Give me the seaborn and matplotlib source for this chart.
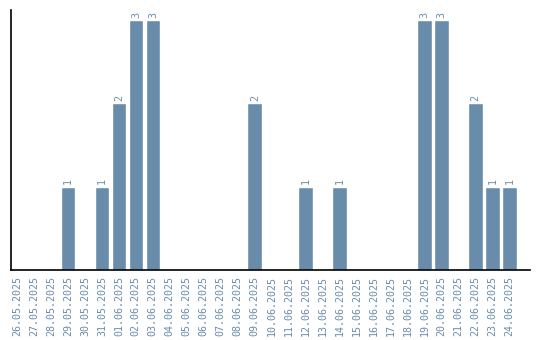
import matplotlib
matplotlib.use("Agg")
import matplotlib.pyplot as plt
import seaborn as sns
import pandas as pd

dates = ["26.05.2025","27.05.2025","28.05.2025","29.05.2025","30.05.2025","31.05.2025",
         "01.06.2025","02.06.2025","03.06.2025","04.06.2025","05.06.2025","06.06.2025",
         "07.06.2025","08.06.2025","09.06.2025","10.06.2025","11.06.2025","12.06.2025",
         "13.06.2025","14.06.2025","15.06.2025","16.06.2025","17.06.2025","18.06.2025",
         "19.06.2025","20.06.2025","21.06.2025","22.06.2025","23.06.2025","24.06.2025"]
counts = [0,0,0,1,0,1,2,3,3,0,0,0,0,0,2,0,0,1,0,1,0,0,0,0,3,3,0,2,1,1]

df = pd.DataFrame({"date": dates, "count": counts})
sns.set_style("white")
color = "#6a8cab"

fig = plt.figure(figsize=(5.4, 3.4), dpi=100)
ax = fig.add_axes([11/540, 1-270/340, (530-11)/540, (270-10)/340])
sns.barplot(data=df, x="date", y="count", color=color, saturation=1, width=0.86, ax=ax)
for p, v in zip(ax.patches, counts):
    if v > 0:
        ax.text(p.get_x()+p.get_width()/2, v+0.03, str(v), rotation=90, ha="center", va="bottom",
                fontsize=7.2, color=color, family="DejaVu Sans Mono")
ax.set_xlim(-0.35, 30.2)
ax.set_ylim(0, 3.12)
ax.set_xlabel(""); ax.set_ylabel("")
ax.set_yticks([])
ax.set_xticks(range(len(dates)))
ax.set_xticklabels(dates, rotation=90, fontsize=7.2, color=color, family="DejaVu Sans Mono")
ax.tick_params(axis="x", length=0, pad=4)
for s in ["top", "right"]:
    ax.spines[s].set_visible(False)
for s in ["left", "bottom"]:
    ax.spines[s].set_color("black")
    ax.spines[s].set_linewidth(1.2)
fig.savefig("out.png", dpi=100)
